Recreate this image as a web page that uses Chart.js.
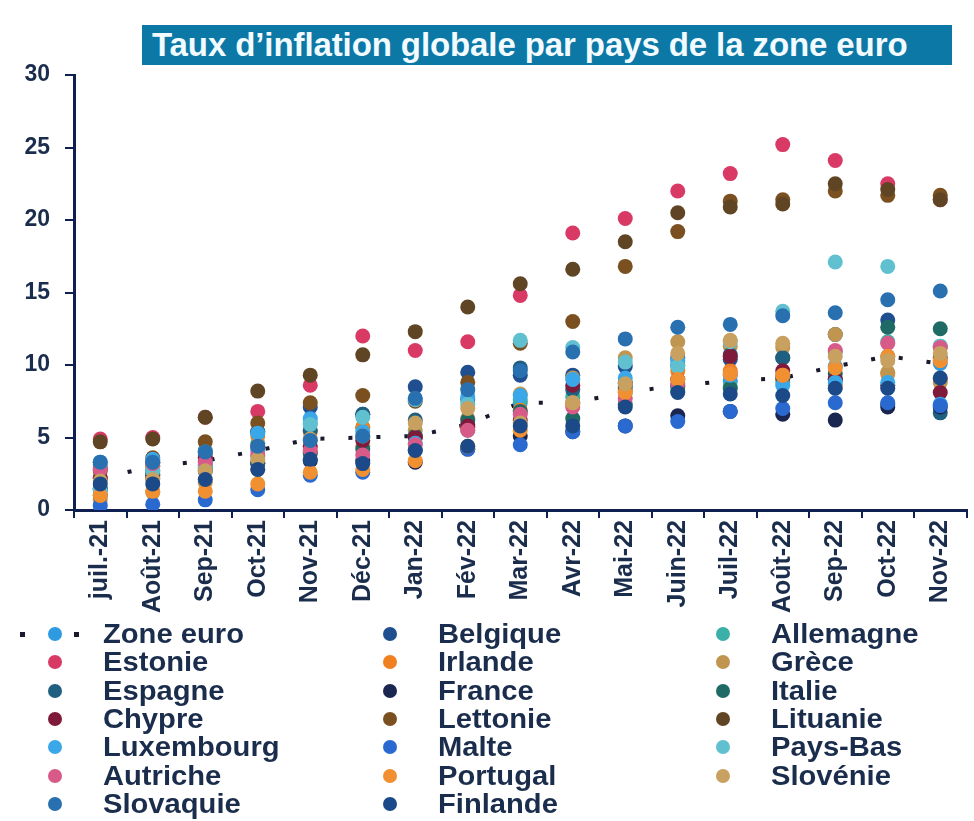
<!DOCTYPE html>
<html lang="fr">
<head>
<meta charset="utf-8">
<title>Taux d'inflation globale par pays de la zone euro</title>
<script src="https://cdn.jsdelivr.net/npm/chart.js@4.4.1/dist/chart.umd.min.js"></script>
<style>
  body { margin: 0; background: #fff; font-family: "Liberation Sans", Arial, sans-serif; }
  #wrap { position: relative; width: 974px; height: 821px; overflow: hidden; }
  #chart { position: absolute; left: 0; top: 0; }
  #titre {
    position: absolute; left: 142px; top: 25px; width: 800px; height: 40px;
    background: #0b78a6; color: #f2fbff; font-weight: bold; font-size: 33px;
    line-height: 40px; padding-left: 10px; white-space: nowrap; letter-spacing: -0.1px;
  }
  #legende { position: absolute; left: 0; top: 620px; width: 974px; }
  .item { position: absolute; height: 28px; }
  .item .dot { position: absolute; width: 14px; height: 14px; border-radius: 50%; top: 7px; }
  .item .txt {
    position: absolute; top: 0; font-weight: bold; font-size: 27px; line-height: 28px;
    color: #1b2d4c; white-space: nowrap; transform: scaleX(1.08); transform-origin: left center;
  }
  .item .pt { position: absolute; width: 5px; height: 5px; background: #1a1a2e; top: 12px; }
</style>
</head>
<body>
<div id="wrap">
  <canvas id="chart" width="974" height="630"></canvas>
  <div id="titre">Taux d’inflation globale par pays de la zone euro</div>
  <div id="legende"></div>
</div>
<script>
// Mois (axe X)
const mois = ["juil.-21", "Août-21", "Sep-21", "Oct-21", "Nov-21", "Déc-21", "Jan-22", "Fév-22", "Mar-22",
  "Avr-22", "Mai-22", "Juin-22", "Juil-22", "Août-22", "Sep-22", "Oct-22", "Nov-22"];

// Graduations de l'axe Y
const yTicks = [0, 5, 10, 15, 20, 25, 30];

// Inflation (%) par pays
const zoneEuro   = [2.2, 3.0, 3.4, 4.1, 4.9, 5.0, 5.1, 5.9, 7.4, 7.4, 8.1, 8.6, 8.9, 9.1, 9.9, 10.6, 10.1];
const belgique   = [1.4, 2.7, 3.1, 5.4, 7.1, 6.6, 8.5, 9.5, 9.3, 9.3, 9.9, 10.5, 10.4, 10.5, 12.1, 13.1, 10.5];
const allemagne  = [3.1, 3.4, 4.1, 4.6, 6.0, 5.7, 5.1, 5.5, 7.6, 7.8, 8.7, 8.2, 8.5, 8.8, 10.9, 11.6, 11.3];
const estonie    = [4.9, 5.0, 6.4, 6.8, 8.6, 12.0, 11.0, 11.6, 14.8, 19.1, 20.1, 22.0, 23.2, 25.2, 24.1, 22.5, 21.4];
const irlande    = [2.2, 3.0, 3.8, 5.1, 5.4, 5.7, 5.0, 5.7, 6.9, 7.3, 8.3, 9.6, 9.6, 9.0, 8.6, 9.4, 9.0];
const grece      = [0.7, 1.2, 1.9, 2.8, 4.0, 4.4, 5.5, 6.3, 8.0, 9.1, 10.5, 11.6, 11.3, 11.2, 12.1, 9.5, 8.8];
const espagne    = [2.9, 3.3, 4.0, 5.4, 5.5, 6.6, 6.2, 7.6, 9.8, 8.3, 8.5, 10.0, 10.7, 10.5, 9.0, 7.3, 6.7];
const france     = [1.5, 2.4, 2.7, 3.2, 3.4, 3.4, 3.3, 4.2, 5.1, 5.4, 5.8, 6.5, 6.8, 6.6, 6.2, 7.1, 7.1];
const italie     = [1.0, 2.5, 2.9, 3.2, 3.9, 4.2, 5.1, 6.2, 6.8, 6.3, 7.3, 8.5, 8.4, 9.1, 9.4, 12.6, 12.5];
const chypre     = [2.2, 2.2, 3.6, 4.4, 4.4, 4.8, 5.0, 5.8, 6.2, 8.6, 8.8, 9.0, 10.6, 9.6, 9.0, 8.6, 8.1];
const lettonie   = [2.7, 3.6, 4.7, 6.0, 7.4, 7.9, 7.5, 8.8, 11.5, 13.0, 16.8, 19.2, 21.3, 21.4, 22.0, 21.7, 21.7];
const lituanie   = [4.7, 4.9, 6.4, 8.2, 9.3, 10.7, 12.3, 14.0, 15.6, 16.6, 18.5, 20.5, 20.9, 21.1, 22.5, 22.1, 21.4];
const luxembourg = [3.3, 3.5, 4.0, 5.3, 6.3, 5.4, 4.6, 7.8, 7.9, 9.0, 9.1, 10.3, 9.3, 8.6, 8.8, 8.8, 7.3];
const malte      = [0.3, 0.4, 0.7, 1.4, 2.4, 2.6, 4.1, 4.2, 4.5, 5.4, 5.8, 6.1, 6.8, 7.0, 7.4, 7.4, 7.2];
const paysBas    = [1.4, 2.7, 3.0, 3.7, 5.9, 6.4, 7.6, 7.3, 11.7, 11.2, 10.2, 9.9, 11.6, 13.7, 17.1, 16.8, 11.3];
const autriche   = [2.8, 3.2, 3.3, 3.8, 4.1, 3.8, 4.5, 5.5, 6.6, 7.1, 7.7, 8.7, 9.4, 9.3, 11.0, 11.5, 11.2];
const portugal   = [1.0, 1.3, 1.3, 1.8, 2.6, 2.8, 3.4, 4.4, 5.5, 7.4, 8.1, 9.0, 9.4, 9.3, 9.8, 10.6, 10.3];
const slovenie   = [2.0, 2.1, 2.7, 3.5, 4.9, 5.1, 6.0, 7.0, 6.0, 7.4, 8.7, 10.8, 11.7, 11.5, 10.6, 10.3, 10.8];
const slovaquie  = [3.3, 3.3, 4.0, 4.4, 4.8, 5.1, 7.7, 8.3, 9.6, 10.9, 11.8, 12.6, 12.8, 13.4, 13.6, 14.5, 15.1];
const finlande   = [1.8, 1.8, 2.1, 2.8, 3.5, 3.2, 4.1, 4.4, 5.8, 5.8, 7.1, 8.1, 8.0, 7.9, 8.4, 8.4, 9.1];

const pays = ["Zone euro", "Belgique", "Allemagne", "Estonie", "Irlande", "Grèce", "Espagne", "France", "Italie",
  "Chypre", "Lettonie", "Lituanie", "Luxembourg", "Malte", "Pays-Bas", "Autriche", "Portugal", "Slovénie",
  "Slovaquie", "Finlande"];
const series = [zoneEuro, belgique, allemagne, estonie, irlande, grece, espagne, france, italie, chypre,
  lettonie, lituanie, luxembourg, malte, paysBas, autriche, portugal, slovenie, slovaquie, finlande];
const couleurs = ["#2e9be0", "#1f4f8f", "#3ab0a8", "#d93a65", "#f08020", "#c09550", "#1f5f80", "#1a2550",
  "#1f6a65", "#7f1a3a", "#7a5020", "#604525", "#3aa8e8", "#2a6ad0", "#60c0d0", "#d85a88", "#f09030",
  "#c8a060", "#2870b0", "#1c4a88"];

const bleuNuit = "#0f1f4f";
const texte = "#1b2d4c";

// Jeux de données : la zone euro en ligne pointillée, les pays en points
const datasets = series.map((vals, i) => ({
  label: pays[i],
  data: vals,
  showLine: i === 0,
  borderColor: i === 0 ? "#1a1a2e" : couleurs[i],
  borderWidth: i === 0 ? 4 : 0,
  borderDash: i === 0 ? [4, 24] : [],
  backgroundColor: couleurs[i],
  pointBackgroundColor: couleurs[i],
  pointBorderWidth: 0,
  pointRadius: 7.5,
  order: series.length - i // les derniers pays dessinés au-dessus
}));

new Chart(document.getElementById("chart"), {
  type: "line",
  data: { labels: mois, datasets: datasets },
  options: {
    responsive: false,
    animation: false,
    devicePixelRatio: 1,
    layout: { padding: { top: 75, right: 4, left: 0, bottom: 0 } },
    plugins: { legend: { display: false }, tooltip: { enabled: false } },
    scales: {
      x: {
        offset: true,
        grid: { offset: true, drawOnChartArea: false, tickLength: 8, color: bleuNuit, lineWidth: 2 },
        border: { color: bleuNuit, width: 3 },
        ticks: {
          color: texte, font: { family: "Liberation Sans", size: 25, weight: "bold" },
          minRotation: 90, maxRotation: 90, autoSkip: false, padding: 2
        },
        afterFit: s => { s.height = 120; }
      },
      y: {
        min: 0, max: 30,
        afterBuildTicks: s => { s.ticks = yTicks.map(v => ({ value: v })); },
        grid: { drawOnChartArea: false, tickLength: 9, color: bleuNuit, lineWidth: 2 },
        border: { color: bleuNuit, width: 3 },
        ticks: { color: texte, font: { family: "Liberation Sans", size: 23, weight: "bold" }, padding: 15 },
        afterFit: s => { s.width = 74; }
      }
    }
  }
});

// Légende HTML sur trois colonnes
const legende = document.getElementById("legende");
const colX = [55, 390, 723];
pays.forEach((nom, i) => {
  const item = document.createElement("div");
  item.className = "item";
  const col = i % 3, row = Math.floor(i / 3);
  item.style.left = "0px";
  item.style.top = (row * 28.3) + "px";
  const dot = document.createElement("div");
  dot.className = "dot";
  dot.style.left = (colX[col] - 7) + "px";
  dot.style.background = couleurs[i];
  item.appendChild(dot);
  if (i === 0) {
    [20, 74].forEach(x => {
      const p = document.createElement("div");
      p.className = "pt";
      p.style.left = x + "px";
      item.appendChild(p);
    });
  }
  const txt = document.createElement("div");
  txt.className = "txt";
  txt.style.left = (colX[col] + 48) + "px";
  txt.textContent = nom;
  item.appendChild(txt);
  legende.appendChild(item);
});
</script>
</body>
</html>
